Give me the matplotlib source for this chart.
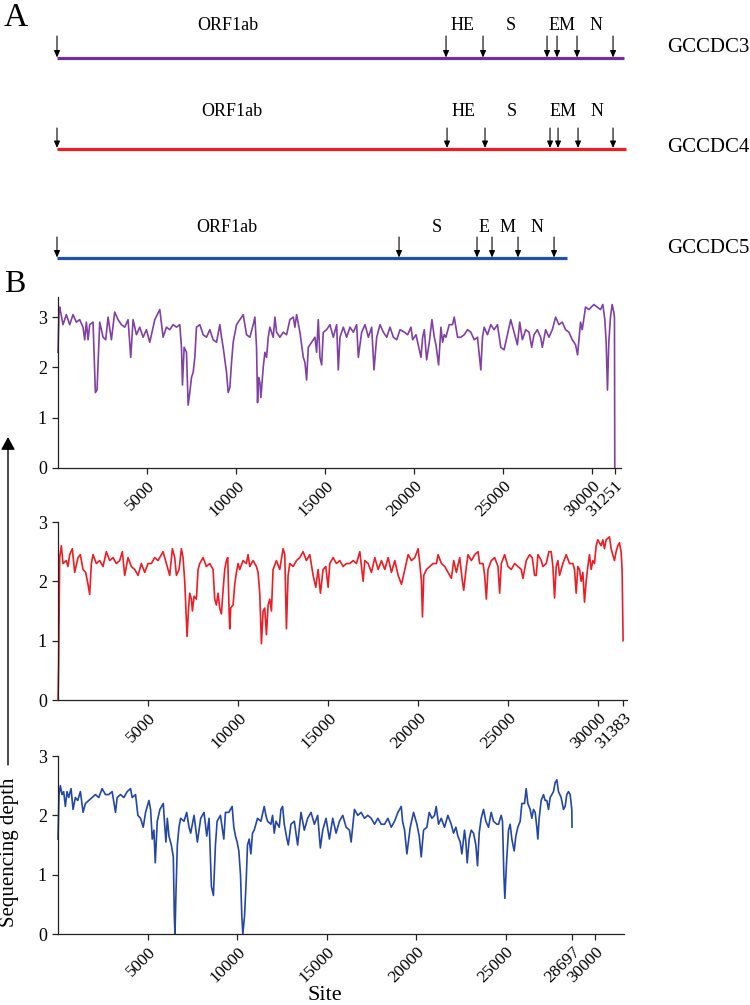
import matplotlib
matplotlib.use("Agg")
import matplotlib.pyplot as plt

plt.rcParams['font.family'] = ['Liberation Serif', 'DejaVu Serif']

# ---------------- data ----------------
samples = ["GCCDC3", "GCCDC4", "GCCDC5"]
genome_len = [31251, 31383, 28697]
drawn_len = [31251, 31383, 28100]   # length of schematic line in panel A

gene_arrows = [
    [0, 21442, 23481, 27009, 27560, 28662, 30647],
    [0, 21497, 23591, 27174, 27615, 28718, 30647],
    [0, 18851, 23150, 23977, 25410, 27395],
]
gene_labels = [
    ["ORF1ab", "HE", "S", "EM", "N"],
    ["ORF1ab", "HE", "S", "EM", "N"],
    ["ORF1ab", "S", "E", "M", "N"],
]
gene_label_pos = [
    [9425, 22324, 25024, 27836, 29710],
    [9646, 22379, 25080, 27891, 29765],
    [9370, 20946, 23536, 24804, 26458],
]

gccdc3_site = [0, 56, 94, 281, 468, 656, 843, 1030, 1217, 1405, 1498, 1592, 1686, 1779, 1967, 2023, 2098, 2191,
               2341, 2529, 2678, 2810, 2997, 3184, 3371, 3559, 3746, 3933, 4083, 4215, 4402, 4589, 4776, 4963,
               5151, 5432, 5713, 5900, 6087, 6275, 6462, 6649, 6836, 6930, 6986, 7080, 7211, 7305, 7398, 7492,
               7586, 7679, 7773, 7960, 8148, 8335, 8522, 8709, 8897, 9084, 9178, 9271, 9459, 9552, 9646, 9740,
               9833, 10020, 10208, 10395, 10582, 10770, 10957, 11051, 11144, 11200, 11257, 11332, 11388, 11519,
               11613, 11706, 11800, 11894, 12081, 12175, 12268, 12455, 12643, 12830, 13017, 13205, 13298, 13392,
               13579, 13767, 13860, 13954, 14048, 14235, 14422, 14516, 14609, 14703, 14797, 14890, 15077, 15265,
               15452, 15640, 15733, 15827, 16014, 16201, 16389, 16576, 16763, 16857, 17044, 17232, 17419, 17606,
               17737, 17887, 18074, 18262, 18449, 18636, 18824, 19011, 19198,
               19440, 19627, 19813, 19907, 20093, 20187, 20373, 20467, 20560, 20690, 20840, 20989, 21120, 21213,
               21362, 21493, 21586, 21679, 21773, 21959, 22146, 22239, 22333, 22426, 22612, 22799, 22986, 23172,
               23359, 23545, 23732, 23825, 23919, 24105, 24292, 24478, 24665, 24852, 25038, 25225, 25411, 25598,
               25785, 25915, 26065, 26251, 26438, 26587, 26718, 26904, 27091, 27184, 27371, 27557, 27744, 27931,
               28117, 28304, 28490, 28677, 28864, 29050, 29162, 29330, 29423, 29610, 29797, 30076, 30263, 30450,
               30580, 30692, 30767, 30841, 30916, 31009, 31103, 31196, 31233, 31251]
gccdc3_depth = [2.3, 3.1, 3.2, 2.85, 3.05, 2.85, 3.05, 2.9, 2.95, 2.8, 2.55, 2.9, 2.55, 2.85, 2.9, 2.3, 1.5, 1.55,
                2.9, 2.6, 2.55, 3.0, 2.55, 3.1, 2.95, 2.85, 2.8, 2.95, 2.2, 2.95, 2.65, 2.8, 2.6, 2.75,
                2.5, 2.95, 3.15, 2.6, 2.8, 2.75, 2.85, 2.8, 2.85, 2.4, 1.65, 2.4, 2.3, 1.25, 1.5, 1.8,
                1.9, 2.2, 2.8, 2.85, 2.65, 2.6, 2.75, 2.55, 2.5, 2.85, 2.6, 2.4, 1.9, 1.5, 1.6, 2.1,
                2.5, 2.85, 2.95, 3.05, 2.65, 2.6, 2.85, 3.0, 2.4, 1.3, 1.8, 1.7, 1.4, 2.0,
                2.3, 2.2, 2.6, 2.8, 2.6, 3.0, 2.7, 2.6, 2.7, 2.65, 2.95, 3.0, 2.8, 3.05,
                2.7, 2.2, 2.1, 1.75, 2.4, 2.5, 2.6, 2.3, 2.95, 2.2, 2.05, 2.7, 2.75, 2.85,
                2.6, 2.85, 1.95, 2.6, 2.8, 2.6, 2.8, 2.7, 2.85, 2.2, 2.7, 2.85, 2.6, 2.8,
                1.95, 2.6, 2.85, 2.7, 2.6, 2.8, 2.6, 2.55, 2.75,
                2.7, 2.65, 2.8, 2.55, 2.65, 2.5, 2.2, 2.6, 2.75, 2.15, 2.5, 2.95, 2.6, 2.45,
                2.05, 2.8, 2.5, 2.65, 2.6, 2.85, 2.85, 3.0, 2.8, 2.6, 2.6, 2.65, 2.75, 2.7,
                2.55, 2.6, 1.95, 2.6, 2.8, 2.65, 2.85, 2.75, 2.85, 2.4, 2.35, 2.65, 2.95, 2.7,
                2.45, 2.9, 2.55, 2.75, 2.7, 2.4, 2.65, 2.75, 2.6, 2.4, 2.75, 2.6, 2.75, 3.0,
                2.85, 2.9, 2.75, 2.7, 2.55, 2.45, 2.25, 2.9, 2.75, 3.2, 3.15, 3.25, 3.2, 3.15,
                3.25, 2.95, 2.5, 1.55, 2.5, 3.0, 3.25, 3.1, 3.0, 0.0]

gccdc4_site = [0, 37, 93, 185, 278, 463, 556, 648, 796, 926, 1111, 1241, 1389, 1537, 1667, 1759, 1852, 1945,
               2130, 2315, 2500, 2685, 2871, 3056, 3241, 3426, 3574, 3704, 3889, 4074, 4260, 4445, 4630, 4815,
               5000, 5186, 5371, 5556, 5741, 5834, 6019, 6204, 6352, 6482, 6575, 6723, 6852, 6945, 7038, 7093,
               7167, 7241, 7315, 7408, 7464, 7556, 7686, 7778, 7871, 8056, 8241, 8427, 8612, 8704, 8797, 8890,
               8982, 9075, 9167, 9260, 9353, 9427, 9501, 9538, 9593, 9723, 9816, 9908, 10001, 10093, 10279,
               10464, 10556, 10649, 10834, 11019, 11112, 11205, 11297, 11390, 11482, 11575, 11668, 11760, 11853,
               11945, 12131, 12316, 12501, 12594, 12686, 12779, 12871, 13057, 13242, 13427, 13612, 13797, 13983,
               14168, 14316, 14446, 14575, 14723, 14872, 15001, 15094, 15279, 15464, 15649, 15835, 16020, 16205,
               16390, 16575, 16761, 16946, 17038, 17224, 17409, 17594, 17779, 17964, 18150, 18335, 18520, 18705,
               18890,
               19076, 19261, 19446, 19630, 19815, 20000, 20092, 20185, 20240, 20314, 20462, 20647, 20832, 21016,
               21109, 21294, 21478, 21663, 21848, 21977, 22125, 22310, 22458, 22532, 22680, 22772, 22957, 23142,
               23326, 23419, 23604, 23696, 23788, 23881, 24066, 24250, 24435, 24528, 24620, 24805, 24990, 25174,
               25359, 25544, 25729, 25821, 26006, 26191, 26339, 26468, 26560, 26653, 26838, 26930, 27115, 27263,
               27392, 27484, 27577, 27669, 27762, 27854, 28039, 28224, 28409, 28594, 28686, 28778, 28871, 28963,
               29055, 29148, 29240, 29332, 29425, 29517, 29610, 29702, 29794, 29887, 29979, 30164, 30256, 30349,
               30441, 30626, 30718, 30811, 30903, 30996, 31088, 31181, 31273, 31328, 31383]
gccdc4_depth = [0.0, 0.6, 2.4, 2.6, 2.3, 2.35, 2.25, 2.45, 2.55, 2.15, 2.4, 2.45, 2.2, 2.15, 1.95, 1.78, 2.3, 2.45,
                2.3, 2.35, 2.25, 2.5, 2.35, 2.4, 2.3, 2.35, 2.5, 2.1, 2.4, 2.25, 2.2, 2.1, 2.3, 2.15,
                2.3, 2.3, 2.4, 2.35, 2.45, 2.5, 2.3, 2.1, 2.55, 2.4, 2.1, 2.2, 2.55, 2.4, 2.0, 1.6,
                1.07, 1.5, 1.8, 1.7, 1.5, 1.75, 1.7, 2.2, 2.3, 2.4, 2.25, 2.3, 2.2, 1.7, 1.6, 1.8,
                1.55, 1.45, 1.85, 2.2, 2.35, 2.4, 1.5, 1.2, 1.55, 1.6, 1.95, 2.15, 2.3, 2.2, 2.35,
                2.3, 2.45, 2.25, 2.35, 2.25, 2.15, 1.8, 0.95, 1.5, 1.55, 1.1, 1.6, 1.7, 1.5,
                2.2, 2.35, 2.2, 2.55, 2.45, 1.2, 2.1, 2.3, 2.25, 2.35, 2.4, 2.5, 2.35, 2.45,
                2.1, 1.9, 2.2, 1.8, 2.2, 2.25, 1.9, 2.3, 2.4, 2.3, 2.35, 2.25, 2.3, 2.3,
                2.35, 2.3, 2.5, 2.0, 2.35, 2.3, 2.15, 2.4, 2.2, 2.35, 2.2, 2.4, 2.15, 2.35,
                2.1,
                1.95, 2.2, 2.45, 2.35, 2.4, 2.55, 2.3, 2.0, 1.4, 2.1, 2.2, 2.25, 2.3, 2.3,
                2.45, 2.3, 2.25, 2.15, 2.05, 2.35, 2.15, 2.4, 2.0, 1.85, 2.25, 2.45, 2.35, 2.45,
                2.5, 2.3, 2.3, 2.1, 1.7, 2.2, 2.35, 2.4, 2.25, 1.8, 2.3, 2.45, 2.25, 2.2,
                2.3, 2.25, 2.2, 2.05, 2.35, 2.45, 2.4, 2.1, 2.1, 2.45, 2.35, 2.25, 2.3, 2.5,
                2.5, 2.25, 1.72, 2.25, 2.35, 2.1, 2.3, 2.45, 2.3, 2.3, 2.2, 1.8, 2.25, 2.2,
                2.0, 2.15, 1.65, 2.0, 2.25, 2.45, 2.2, 2.35, 2.3, 2.6, 2.7, 2.6, 2.7, 2.55,
                2.7, 2.75, 2.55, 2.45, 2.35, 2.5, 2.6, 2.65, 2.5, 2.2, 1.0]

gccdc5_site = [0, 56, 131, 224, 317, 411, 504, 597, 728, 840, 970, 1101, 1250, 1400, 1530, 1717, 1903, 2090,
               2277, 2463, 2650, 2836, 3023, 3210, 3303, 3489, 3676, 3863, 4049, 4143, 4329, 4460, 4609, 4758,
               4889, 5076, 5169, 5262, 5355, 5430, 5542, 5691, 5878, 5953, 6027, 6102, 6195, 6326, 6438, 6494,
               6531, 6587, 6662, 6755, 6848, 7035, 7184, 7315, 7408, 7595, 7781, 7968, 8154, 8304, 8434, 8565,
               8677, 8790, 8883, 9069, 9256, 9349, 9536, 9722, 9816, 9909, 10002, 10095, 10189, 10263, 10320,
               10413, 10507, 10580, 10673, 10767, 10860, 10953, 11140, 11327, 11513, 11607, 11700, 11886, 11980,
               12073, 12166, 12353, 12446, 12540, 12633, 12782, 12857, 13006, 13193, 13379, 13566, 13752, 13939,
               14126, 14312, 14499, 14648, 14779, 14965, 15152, 15339, 15525, 15712, 15898, 16085, 16272, 16365,
               16551, 16738, 16925, 17111, 17298, 17484, 17671, 17858, 18044, 18231, 18418, 18604, 18791, 18977,
               19164,
               19237, 19349, 19479, 19665, 19851, 20037, 20167, 20279, 20409, 20595, 20725, 20874, 21023, 21116,
               21246, 21395, 21581, 21767, 21953, 22083, 22213, 22325, 22455, 22548, 22697, 22771, 22846, 22957,
               23069, 23199, 23329, 23422, 23515, 23627, 23757, 23887, 24036, 24185, 24315, 24501, 24594, 24743,
               24817, 24892, 24948, 25041, 25152, 25245, 25338, 25468, 25561, 25673, 25803, 25896, 26045, 26138,
               26231, 26361, 26454, 26547, 26640, 26733, 26789, 26863, 26975, 27105, 27198, 27291, 27384, 27477,
               27570, 27663, 27756, 27849, 27942, 28091, 28221, 28314, 28407, 28500, 28593, 28686, 28697]
gccdc5_depth = [1.6, 2.35, 2.5, 2.35, 2.4, 2.15, 2.4, 2.3, 2.45, 2.1, 2.3, 2.25, 2.4, 2.05, 2.2, 2.25, 2.3, 2.35,
                2.3, 2.45, 2.35, 2.35, 2.4, 2.05, 2.3, 2.35, 2.3, 2.4, 2.45, 2.3, 2.35, 2.0, 1.95, 1.8,
                2.05, 2.25, 2.1, 1.6, 1.75, 1.2, 1.9, 2.1, 2.2, 1.85, 1.55, 1.95, 1.65, 1.5, 1.3, 0.3,
                0.0, 0.7, 1.5, 1.8, 1.95, 1.9, 2.05, 1.8, 1.7, 2.0, 1.55, 1.95, 2.05, 1.65, 1.95, 0.8,
                0.65, 1.5, 1.9, 2.0, 1.6, 2.05, 2.05, 2.15, 1.8, 1.65, 1.55, 1.4, 1.0, 0.3, 0.0,
                0.3, 0.9, 1.5, 1.6, 1.35, 1.7, 1.75, 1.95, 1.9, 2.15, 2.0, 1.9, 1.85, 2.0,
                1.7, 1.9, 1.8, 2.1, 2.15, 1.85, 1.6, 1.5, 1.85, 1.9, 1.5, 2.05, 1.75, 1.95,
                2.05, 1.85, 2.0, 1.45, 1.75, 1.95, 1.6, 1.95, 1.7, 1.9, 2.0, 1.8, 1.75, 1.55,
                2.1, 2.0, 2.05, 1.95, 2.0, 1.95, 1.85, 1.95, 1.85, 1.85, 1.95, 1.8, 1.9, 2.05,
                2.15,
                1.9, 1.75, 1.35, 1.8, 2.05, 1.85, 1.65, 1.3, 1.75, 1.8, 2.05, 1.95, 2.0, 2.15,
                1.85, 1.95, 1.8, 2.0, 1.85, 1.7, 1.8, 1.65, 1.55, 1.35, 1.75, 1.55, 1.2, 1.6,
                1.75, 1.7, 1.5, 1.15, 1.7, 1.95, 2.1, 1.9, 1.8, 2.05, 1.9, 1.85, 1.85, 2.0,
                1.9, 1.0, 0.6, 1.2, 1.75, 1.85, 1.6, 1.4, 1.65, 1.8, 1.9, 2.2, 2.2, 2.45,
                2.2, 2.1, 1.95, 2.1, 2.05, 1.8, 1.6, 1.95, 2.25, 2.35, 2.25, 2.25, 2.1, 2.3,
                2.35, 2.4, 2.55, 2.6, 2.4, 2.3, 2.1, 2.15, 2.35, 2.4, 2.35, 2.1, 1.8]

sites = [gccdc3_site, gccdc4_site, gccdc5_site]
depths = [gccdc3_depth, gccdc4_depth, gccdc5_depth]

x_ticks = [
    [5000, 10000, 15000, 20000, 25000, 30000, 31251],
    [5000, 10000, 15000, 20000, 25000, 30000, 31383],
    [5000, 10000, 15000, 20000, 25000, 28697, 30000],
]
y_ticks = [0, 1, 2, 3]
y_max = [3.4, 3.0, 3.0]

trace_colors = ["#8040A4", "#EE1C24", "#2447A6"]
schematic_colors = ["#7030A0", "#EE1C24", "#2350A8"]

# ---------------- layout ----------------
W, H = 750, 1005
fig = plt.figure(figsize=(W / 100, H / 100), dpi=100)


def px_axes(left, right, top, bottom):
    return fig.add_axes([left / W, 1 - bottom / H, (right - left) / W, (bottom - top) / H])


# ---------- panel A ----------
axA = px_axes(57, 624, 0, 270)
axA.set_xlim(0, 31251)
axA.set_ylim(270, 0)
axA.axis("off")

line_y = [58.5, 149, 258.5]
arrow_top = [36, 128, 237]
label_y = [25, 111, 227]
name_y = [47, 147, 248]

for i in range(3):
    axA.plot([0, drawn_len[i]], [line_y[i], line_y[i]], color=schematic_colors[i], lw=2.3,
             solid_capstyle="butt", clip_on=False)
    for s in gene_arrows[i]:
        axA.annotate("", xy=(s, line_y[i] - 1.0), xytext=(s, arrow_top[i]),
                     arrowprops=dict(arrowstyle="-|>,head_length=0.5,head_width=0.22", color="black",
                                     lw=0.8, mutation_scale=8, shrinkA=0, shrinkB=0),
                     annotation_clip=False)
    for lab, pos in zip(gene_labels[i], gene_label_pos[i]):
        axA.text(pos, label_y[i], lab, ha="center", va="center", fontsize=13)
    fig.text(667 / W, 1 - name_y[i] / H, samples[i], ha="left", va="center", fontsize=15)

fig.text(4 / W, 1 - 18 / H, "A", ha="left", va="center", fontsize=24)
fig.text(4 / W, 1 - 285 / H, "B", ha="left", va="center", fontsize=23)

# ---------- panel B ----------
boxes = [(58, 621, 297, 468), (58, 627, 522, 700), (58, 624, 756, 934)]
for i in range(3):
    l, r, t, b = boxes[i]
    ax = px_axes(l, r, t, b)
    ax.plot(sites[i], depths[i], color=trace_colors[i], lw=1.2, clip_on=False)
    ax.set_xlim(0, 31600)
    ax.set_ylim(0, y_max[i])
    ax.set_xticks(x_ticks[i])
    ax.set_xticklabels([str(v) for v in x_ticks[i]], rotation=45, ha="right",
                       va="top", rotation_mode="anchor", fontsize=12.5)
    ax.set_yticks(y_ticks)
    ax.set_yticklabels([str(v) for v in y_ticks], fontsize=13)
    for side in ("top", "right"):
        ax.spines[side].set_visible(False)
    for side in ("left", "bottom"):
        ax.spines[side].set_linewidth(0.9)
        ax.spines[side].set_color("#222222")
    ax.tick_params(direction="out", length=4, width=0.9, color="#222222")
    ax.tick_params(axis="x", pad=3)
    ax.tick_params(axis="y", pad=4)

# y-axis label with arrow
fig.text(10 / W, 1 - 852 / H, "Sequencing depth", rotation=90, ha="center", va="center", fontsize=15)
fig.patches.append(matplotlib.patches.FancyArrowPatch(
    (8 / W, 1 - 765 / H), (8 / W, 1 - 437 / H), transform=fig.transFigure,
    arrowstyle="-|>,head_length=0.55,head_width=0.3", mutation_scale=14,
    color="black", lw=1.0, shrinkA=0, shrinkB=0))

fig.text(325 / W, 1 - 995 / H, "Site", ha="center", va="center", fontsize=16)

fig.savefig("out.png", dpi=100)
